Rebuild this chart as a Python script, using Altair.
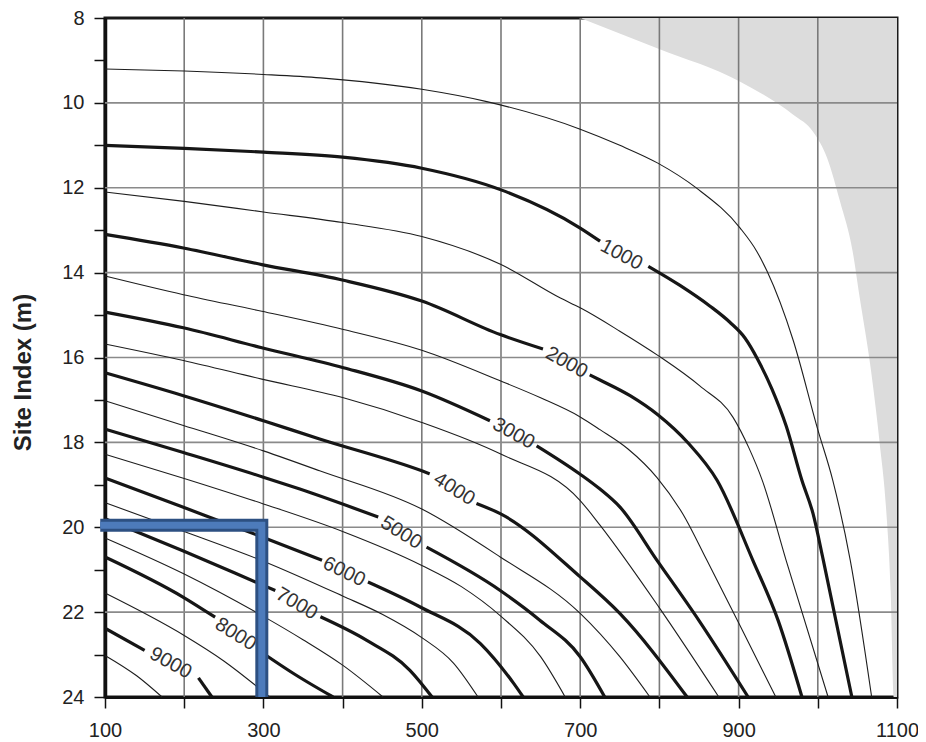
import altair as alt
import pandas as pd

# ---------------- axes / grid ----------------
X_GRID = [200, 300, 400, 500, 600, 700, 800, 900, 1000]
Y_GRID = [10, 12, 14, 16, 18, 20, 22]
X_TICKS = list(range(100, 1101, 50))
X_LABELS = [100, 300, 500, 700, 900, 1100]
Y_TICKS = list(range(8, 25))
Y_LABELS = [8, 10, 12, 14, 16, 18, 20, 22, 24]

# ---------------- shaded (grey) region boundary ----------------
GRAY_X = [700, 798, 902, 969, 994, 1012, 1028, 1044, 1053, 1066, 1078, 1086, 1092, 1096, 1100]
GRAY_Y = [8.0, 8.72, 9.5, 10.28, 10.68, 11.31, 12.32, 13.5, 14.6, 16.15, 18.0, 19.5, 21.5, 24.0, 24.0]

# ---------------- contour lines (thin = odd 500s, thick = 1000s; thick split at label) ----------------
C500_X = [100, 200, 300, 372, 500, 582, 700, 750, 798, 847, 902, 923, 936, 969, 1000, 1019, 1041, 1068]
C500_Y = [9.2, 9.25, 9.33, 9.41, 9.68, 9.97, 10.62, 11.0, 11.42, 12.01, 12.95, 13.5, 13.97, 15.6, 17.7, 18.9, 20.78, 24.0]

C1000A_X = [100, 200, 300, 400, 500, 600, 700, 725]
C1000A_Y = [11.0, 11.07, 11.16, 11.28, 11.54, 12.05, 12.95, 13.26]
C1000B_X = [786, 826, 864, 889, 908, 924, 942, 960, 980, 994, 1007, 1043]
C1000B_Y = [13.85, 14.3, 14.79, 15.17, 15.54, 16.04, 16.74, 17.61, 18.9, 19.68, 20.78, 24.0]

C1500_X = [100, 200, 300, 400, 500, 600, 675, 700, 750, 798, 851, 893, 913, 930, 960, 1013]
C1500_Y = [12.1, 12.32, 12.57, 12.82, 13.15, 13.81, 14.6, 14.83, 15.38, 15.95, 16.67, 17.41, 18.13, 18.9, 20.78, 24.0]

C2000A_X = [100, 199, 298, 401, 500, 599, 653]
C2000A_Y = [13.1, 13.42, 13.81, 14.18, 14.67, 15.46, 15.8]
C2000B_X = [712, 725, 763, 798, 836, 873, 918, 950, 980]
C2000B_Y = [16.41, 16.53, 16.9, 17.35, 18.01, 18.9, 20.78, 22.2, 24.0]

C2500_X = [100, 199, 298, 401, 500, 599, 650, 700, 725, 760, 797, 830, 860, 900, 947]
C2500_Y = [14.08, 14.52, 14.91, 15.34, 15.83, 16.55, 16.95, 17.4, 17.7, 18.15, 18.83, 19.7, 20.78, 22.25, 24.0]

C3000A_X = [100, 199, 298, 401, 500, 586]
C3000A_Y = [14.93, 15.3, 15.77, 16.24, 16.79, 17.49]
C3000B_X = [645, 700, 725, 750, 797, 850, 912]
C3000B_Y = [18.08, 18.75, 19.1, 19.52, 20.78, 22.2, 24.0]

C3500_X = [100, 199, 298, 401, 500, 599, 700, 725, 800, 875]
C3500_Y = [15.68, 16.07, 16.51, 16.95, 17.53, 18.27, 19.37, 19.95, 21.9, 24.0]

C4000A_X = [100, 199, 300, 371, 500, 510]
C4000A_Y = [16.36, 16.9, 17.49, 17.92, 18.67, 18.74]
C4000B_X = [569, 599, 700, 750, 835]
C4000B_Y = [19.44, 19.68, 21.17, 22.03, 24.0]

C4500_X = [100, 199, 300, 371, 500, 599, 700, 750, 788]
C4500_Y = [17.02, 17.6, 18.2, 18.67, 19.57, 20.7, 22.03, 23.05, 24.0]

C5000A_X = [100, 199, 300, 346, 445]
C5000A_Y = [17.69, 18.24, 18.82, 19.1, 19.76]
C5000B_X = [506, 599, 649, 700, 731]
C5000B_Y = [20.47, 21.49, 22.19, 23.05, 24.0]

C5500_X = [100, 200, 300, 400, 500, 550, 600, 650, 681]
C5500_Y = [18.28, 18.85, 19.45, 20.1, 20.9, 21.4, 22.1, 23.05, 24.0]

C6000A_X = [100, 199, 300, 374]
C6000A_Y = [18.84, 19.53, 20.24, 20.78]
C6000B_X = [432, 498, 574, 616, 628]
C6000B_Y = [21.29, 21.88, 22.74, 23.68, 24.0]

C6500_X = [100, 200, 300, 400, 450, 500, 540, 571]
C6500_Y = [19.42, 20.1, 20.8, 21.62, 22.05, 22.6, 23.2, 24.0]

C7000A_X = [100, 199, 300, 315]
C7000A_Y = [19.8, 20.56, 21.37, 21.49]
C7000B_X = [372, 430, 485, 513]
C7000B_Y = [22.11, 22.66, 23.37, 24.0]

C7500_X = [100, 200, 300, 350, 400, 451]
C7500_Y = [20.25, 21.1, 22.1, 22.65, 23.25, 24.0]

C8000A_X = [100, 199, 239]
C8000A_Y = [20.7, 21.65, 22.12]
C8000B_X = [298, 340, 388]
C8000B_Y = [22.95, 23.47, 24.0]

C8500_X = [100, 200, 250, 308]
C8500_Y = [21.55, 22.55, 23.15, 24.0]

C9000A_X = [100, 150]
C9000A_Y = [22.38, 22.9]
C9000B_X = [218, 235]
C9000B_Y = [23.55, 24.0]

C9500_X = [100, 140, 172]
C9500_Y = [23.02, 23.5, 24.0]

# ---------------- contour labels ----------------
LABEL_TEXT = ["1000", "2000", "3000", "4000", "5000", "6000", "7000", "8000", "9000"]
LABEL_X = [752, 683, 616, 541, 474, 402, 342, 265, 183]
LABEL_Y = [13.58, 16.12, 17.79, 19.1, 20.13, 21.05, 21.8, 22.52, 23.2]
LABEL_ANGLE = [28, 29, 29, 32, 32, 26, 30, 32, 29]

# ---------------- blue marker (L shape) ----------------
BLUE_X = [94, 298, 298]
BLUE_Y = [19.95, 19.95, 24.0]

# ---------------- build tables ----------------
thin_sets = [("500", C500_X, C500_Y), ("1500", C1500_X, C1500_Y), ("2500", C2500_X, C2500_Y),
             ("3500", C3500_X, C3500_Y), ("4500", C4500_X, C4500_Y), ("5500", C5500_X, C5500_Y),
             ("6500", C6500_X, C6500_Y), ("7500", C7500_X, C7500_Y), ("8500", C8500_X, C8500_Y),
             ("9500", C9500_X, C9500_Y)]
thick_sets = [("1000a", C1000A_X, C1000A_Y), ("1000b", C1000B_X, C1000B_Y),
              ("2000a", C2000A_X, C2000A_Y), ("2000b", C2000B_X, C2000B_Y),
              ("3000a", C3000A_X, C3000A_Y), ("3000b", C3000B_X, C3000B_Y),
              ("4000a", C4000A_X, C4000A_Y), ("4000b", C4000B_X, C4000B_Y),
              ("5000a", C5000A_X, C5000A_Y), ("5000b", C5000B_X, C5000B_Y),
              ("6000a", C6000A_X, C6000A_Y), ("6000b", C6000B_X, C6000B_Y),
              ("7000a", C7000A_X, C7000A_Y), ("7000b", C7000B_X, C7000B_Y),
              ("8000a", C8000A_X, C8000A_Y), ("8000b", C8000B_X, C8000B_Y),
              ("9000a", C9000A_X, C9000A_Y), ("9000b", C9000B_X, C9000B_Y)]


def to_df(sets):
    rows = []
    for name, xs, ys in sets:
        for i, (x, y) in enumerate(zip(xs, ys)):
            rows.append({"seg": name, "i": i, "x": x, "y": y})
    return pd.DataFrame(rows)


thin_df = to_df(thin_sets)
thick_df = to_df(thick_sets)
gray_df = pd.DataFrame({"x": GRAY_X, "y": GRAY_Y, "top": [8.0] * len(GRAY_X)})
label_df = pd.DataFrame({"x": LABEL_X, "y": LABEL_Y, "t": LABEL_TEXT, "a": LABEL_ANGLE})
blue_df = pd.DataFrame({"x": BLUE_X, "y": BLUE_Y, "i": list(range(len(BLUE_X)))})
xgrid_df = pd.DataFrame({"x": X_GRID})
ygrid_df = pd.DataFrame({"y": Y_GRID})

FONT = "Liberation Sans"

x_lab_expr = "indexof(" + str(X_LABELS) + ", datum.value) >= 0 ? datum.label : ''"
y_lab_expr = "indexof(" + str(Y_LABELS) + ", datum.value) >= 0 ? datum.label : ''"

xs = alt.Scale(domain=[100, 1100], nice=False, zero=False)
ys = alt.Scale(domain=[8, 24], nice=False, zero=False, reverse=True)

x_axis = alt.Axis(values=X_TICKS, labelExpr=x_lab_expr, format="d", grid=False, title=None,
                  domainColor="#111", domainWidth=3, tickColor="#111", tickWidth=1.5,
                  tickSize=11, labelPadding=12, labelFont=FONT, labelFontSize=20,
                  labelColor="#222", labelFlush=False, labelOverlap=False)
y_axis = alt.Axis(values=Y_TICKS, labelExpr=y_lab_expr, format="d", grid=False, title="Site Index (m)",
                  domainColor="#111", domainWidth=3.5, tickColor="#111", tickWidth=1.5,
                  tickSize=11, labelPadding=10, labelFont=FONT, labelFontSize=20,
                  labelColor="#222", labelOverlap=False, labelFlush=False,
                  titleFont=FONT, titleFontSize=24, titleFontWeight="bold",
                  titleColor="#222", titlePadding=26, titleY=354)

gray = alt.Chart(gray_df).mark_area(color="#dcdcdc", interpolate="monotone", orient="vertical").encode(
    x=alt.X("x:Q", scale=xs, axis=x_axis),
    y=alt.Y("y:Q", scale=ys, axis=y_axis),
    y2="top:Q",
)

vgrid = alt.Chart(xgrid_df).mark_rule(color="#7a7a7a", strokeWidth=1.6).encode(
    x=alt.X("x:Q", scale=xs))
hgrid = alt.Chart(ygrid_df).mark_rule(color="#8a8a8a", strokeWidth=1.6).encode(
    y=alt.Y("y:Q", scale=ys))

thin = alt.Chart(thin_df).mark_line(color="#1e1e1e", strokeWidth=1.1, interpolate="monotone").encode(
    x=alt.X("x:Q", scale=xs), y=alt.Y("y:Q", scale=ys), detail="seg:N", order="i:Q")
thick = alt.Chart(thick_df).mark_line(color="#161616", strokeWidth=3.2, interpolate="monotone").encode(
    x=alt.X("x:Q", scale=xs), y=alt.Y("y:Q", scale=ys), detail="seg:N", order="i:Q")

labels = alt.Chart(label_df).mark_text(font=FONT, fontSize=20, color="#333",
                                       align="center", baseline="middle").encode(
    x=alt.X("x:Q", scale=xs), y=alt.Y("y:Q", scale=ys), text="t:N",
    angle=alt.Angle("a:Q", scale=None))

blue_outer = alt.Chart(blue_df).mark_line(color="#2d5082", strokeWidth=13, strokeJoin="miter",
                                          strokeCap="butt").encode(
    x=alt.X("x:Q", scale=xs), y=alt.Y("y:Q", scale=ys), order="i:Q")
blue_inner = alt.Chart(blue_df).mark_line(color="#4d7bbb", strokeWidth=7, strokeJoin="miter",
                                          strokeCap="butt").encode(
    x=alt.X("x:Q", scale=xs), y=alt.Y("y:Q", scale=ys), order="i:Q")

chart = alt.layer(gray, vgrid, hgrid, thin, thick, labels, blue_outer, blue_inner).properties(
    width=792, height=679,
    autosize=alt.AutoSizeParams(type="none"),
    padding={"left": 97, "top": 10, "right": 21, "bottom": 46},
).configure_view(stroke="#1a1a1a", strokeWidth=3)

chart.save("out.html", embed_options={"renderer": "svg", "actions": False})
